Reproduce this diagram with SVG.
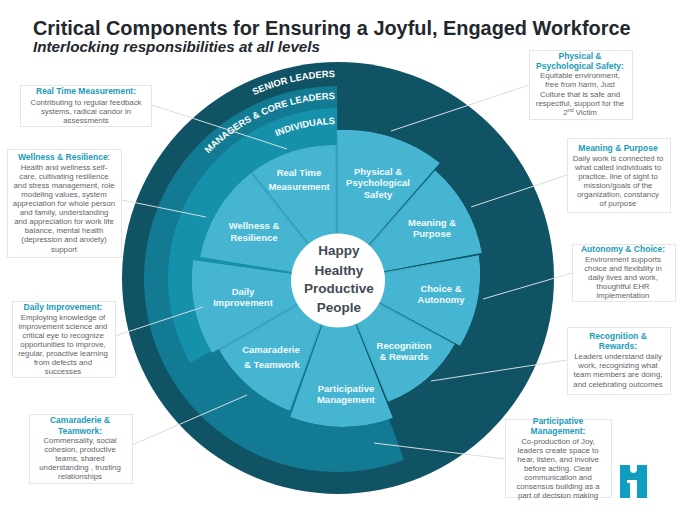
<svg xmlns="http://www.w3.org/2000/svg" width="680" height="512" viewBox="0 0 680 512">
<style>
text{font-family:"Liberation Sans",Arial,sans-serif}
.box{fill:#fff;stroke:#e4e7e9;stroke-width:1}
.h{font-size:8.5px;font-weight:bold;fill:#1a9cb8;text-anchor:middle}
.b{font-size:7.8px;fill:#5f6469;text-anchor:middle}
.p{fill:#45b5d1;filter:url(#sh)}
.l{font-size:9.5px;font-weight:bold;fill:#f2fafc;text-anchor:middle}
.r{font-size:9.4px;font-weight:bold;fill:#fff;text-anchor:end}
.c{font-size:13.5px;font-weight:bold;fill:#3f4a54;text-anchor:middle}
.ln{stroke:#d5dee1;stroke-width:1;fill:none}
</style>
<defs>
<filter id="sh" x="-20%" y="-20%" width="140%" height="140%"><feDropShadow dx="0" dy="0" stdDeviation="1.8" flood-color="#0d5164" flood-opacity=".7"/></filter>
<path id="a1" d="M136 279A202 202 0 0 1 335 77"/>
<path id="a2" d="M158 279A180 180 0 0 1 335 99"/>
<path id="a3" d="M183 279A155 155 0 0 1 335 124"/>
<clipPath id="petals">
<path d="M338 280L252 172A139 139 0 0 0 200 257Z"/>
<path d="M338 280L252 172A138 138 0 0 1 337 145Z"/>
<path d="M338 280L218 348A138 138 0 0 0 290 411Z"/>
<path d="M338 280L388 402A132 132 0 0 0 455 344Z"/>
<path d="M338 280L479 255A143 143 0 0 1 460 346Z"/>
<path d="M338 280L435 170A147 147 0 0 1 482 253Z"/>
<path d="M338 280L337 130A152 152 0 0 1 440 163Z"/>
<path d="M338 280L193 260A146 146 0 0 0 212 353Z"/>
<path d="M338 280L290 417A146 146 0 0 0 393 418Z"/>
</clipPath>
</defs>
<rect width="680" height="512" fill="#fff"/>
<text x="33" y="35" font-size="19.9" font-weight="bold" fill="#22282d">Critical Components for Ensuring a Joyful, Engaged Workforce</text>
<text x="33" y="52" font-size="15.200" font-weight="bold" font-style="italic" fill="#22282d">Interlocking responsibilities at all levels</text>
<g id="rings">
<circle cx="338" cy="278" r="216" fill="#0f5364"/>
<path d="M337 86A193 193 0 1 0 404 460L338 279Z" fill="#137a93"/>
<path d="M337 108A171 171 0 0 0 190 363L338 279Z" fill="#1691ac"/>
<text class="r"><textPath href="#a1" startOffset="100%">SENIOR LEADERS</textPath></text>
<text class="r"><textPath href="#a2" startOffset="100%">MANAGERS &amp; CORE LEADERS</textPath></text>
<text class="r"><textPath href="#a3" startOffset="100%">INDIVIDUALS</textPath></text>
</g>
<g id="wedges" clip-path="url(#petals)">
<path id="wellness" class="p" d="M338 280L252 172A139 139 0 0 0 200 257Z"/>
<path id="real-time" class="p" d="M338 280L252 172A138 138 0 0 1 337 145Z"/>
<path id="camaraderie" class="p" d="M338 280L218 348A138 138 0 0 0 290 411Z"/>
<path id="recognition" class="p" d="M338 280L388 402A132 132 0 0 0 455 344Z"/>
<path id="choice" class="p" d="M338 280L479 255A143 143 0 0 1 460 346Z"/>
<path id="meaning" class="p" d="M338 280L435 170A147 147 0 0 1 482 253Z"/>
<path id="physical" class="p" d="M338 280L337 130A152 152 0 0 1 440 163Z"/>
<path id="daily" class="p" d="M338 280L193 260A146 146 0 0 0 212 353Z"/>
<path id="participative" class="p" d="M338 280L290 417A146 146 0 0 0 393 418Z"/>
</g>
<g id="center"><circle cx="338" cy="280.500" r="47" fill="#fff"/>
<text class="c" x="339" y="255">Happy</text><text class="c" x="339" y="275">Healthy</text><text class="c" x="339" y="293">Productive</text><text class="c" x="339" y="312">People</text></g>
<g id="labels">
<text class="l" x="299" y="176">Real Time</text><text class="l" x="299" y="190">Measurement</text>
<text class="l" x="254" y="229">Wellness &amp;</text><text class="l" x="254" y="241">Resilience</text>
<text class="l" x="243" y="295">Daily</text><text class="l" x="243" y="306">Improvement</text>
<text class="l" x="271" y="353">Camaraderie</text><text class="l" x="272" y="368">&amp; Teamwork</text>
<text class="l" x="346" y="392">Participative</text><text class="l" x="346" y="403">Management</text>
<text class="l" x="404" y="349">Recognition</text><text class="l" x="404" y="360">&amp; Rewards</text>
<text class="l" x="441" y="292">Choice &amp;</text><text class="l" x="441" y="303">Autonomy</text>
<text class="l" x="432" y="226">Meaning &amp;</text><text class="l" x="432" y="237">Purpose</text>
<text class="l" x="378" y="175">Physical &amp;</text><text class="l" x="378" y="186">Psychological</text><text class="l" x="378" y="198">Safety</text>
</g>
<g id="connectors" class="ln">
<path d="M152 105L287 149"/><path d="M122 200L206 217"/><path d="M115 336L203 307"/><path d="M132 445L247 395"/>
<path d="M529 85L391 131"/><path d="M567 175L471 207"/><path d="M572 273L483 299"/><path d="M567 360L431 381"/><path d="M505 459L374 443"/>
</g>
<g id="n-real"><rect class="box" x="20.500" y="85.500" width="131" height="41"/><text class="h" x="86" y="94">Real Time Measurement:</text><text class="b" x="86" y="105">Contributing to regular feedback</text><text class="b" x="86" y="114">systems, radical candor in</text><text class="b" x="86" y="123">assessments</text></g>
<g id="n-wellness"><rect class="box" x="7.500" y="149.500" width="114" height="108"/><text class="h" x="64" y="160">Wellness &amp; Resilience<tspan fill="#5f6469" font-weight="normal">:</tspan></text><text class="b" x="64" y="170">Health and wellness self-</text><text class="b" x="64" y="179">care, cultivating resilience</text><text class="b" x="64" y="188">and stress management, role</text><text class="b" x="64" y="197">modeling values, system</text><text class="b" x="64" y="206">appreciation for whole person</text><text class="b" x="64" y="215">and family, understanding</text><text class="b" x="64" y="224">and appreciation for work life</text><text class="b" x="64" y="233">balance, mental health</text><text class="b" x="64" y="242">(depression and anxiety)</text><text class="b" x="64" y="252">support</text></g>
<g id="n-daily"><rect class="box" x="12.500" y="301.500" width="103" height="76"/><text class="h" x="63" y="310">Daily Improvement:</text><text class="b" x="63" y="320">Employing knowledge of</text><text class="b" x="63" y="329">improvement science and</text><text class="b" x="63" y="338">critical eye to recognize</text><text class="b" x="63" y="347">opportunities to improve,</text><text class="b" x="63" y="356">regular, proactive learning</text><text class="b" x="63" y="365">from defects and</text><text class="b" x="63" y="374">successes</text></g>
<g id="n-camaraderie"><rect class="box" x="29.500" y="414.500" width="103" height="69"/><text class="h" x="80" y="423">Camaraderie &amp;</text><text class="h" x="80" y="434">Teamwork:</text><text class="b" x="80" y="443">Commensality, social</text><text class="b" x="80" y="452">cohesion, productive</text><text class="b" x="80" y="461">teams, shared</text><text class="b" x="80" y="470">understanding , trusting</text><text class="b" x="80" y="479">relationships</text></g>
<g id="n-physical"><rect class="box" x="529.500" y="50.500" width="103" height="69"/><text class="h" x="580" y="59">Physical &amp;</text><text class="h" x="580" y="69">Psychological Safety:</text><text class="b" x="580" y="78">Equitable environment,</text><text class="b" x="580" y="87">free from harm, Just</text><text class="b" x="580" y="97">Culture that is safe and</text><text class="b" x="580" y="106">respectful, support for the</text><text class="b" x="580" y="115">2<tspan font-size="5.500" dy="-3">nd</tspan><tspan dy="3"> Victim</tspan></text></g>
<g id="n-meaning"><rect class="box" x="567.500" y="138.500" width="103" height="74"/><text class="h" x="618" y="151">Meaning &amp; Purpose</text><text class="b" x="618" y="161">Daily work is connected to</text><text class="b" x="618" y="170">what called individuals to</text><text class="b" x="618" y="179">practice, line of sight to</text><text class="b" x="618" y="188">mission/goals of the</text><text class="b" x="618" y="197">organization, constancy</text><text class="b" x="618" y="206">of purpose</text></g>
<g id="n-autonomy"><rect class="box" x="572.500" y="244.500" width="103" height="57"/><text class="h" x="623" y="252">Autonomy &amp; Choice:</text><text class="b" x="623" y="262">Environment supports</text><text class="b" x="623" y="271">choice and flexibility in</text><text class="b" x="623" y="280">daily lives and work,</text><text class="b" x="623" y="289">thoughtful EHR</text><text class="b" x="623" y="298">implementation</text></g>
<g id="n-recognition"><rect class="box" x="567.500" y="327.500" width="103" height="67"/><text class="h" x="618" y="339">Recognition &amp;</text><text class="h" x="618" y="349">Rewards:</text><text class="b" x="618" y="359">Leaders understand daily</text><text class="b" x="618" y="368">work, recognizing what</text><text class="b" x="618" y="377">team members are doing,</text><text class="b" x="618" y="387">and celebrating outcomes</text></g>
<g id="n-participative"><rect class="box" x="505.500" y="419.500" width="106" height="78"/><text class="h" x="558" y="424">Participative</text><text class="h" x="558" y="434">Management:</text><text class="b" x="558" y="444">Co-production of Joy,</text><text class="b" x="558" y="453">leaders create space to</text><text class="b" x="558" y="462">hear, listen, and involve</text><text class="b" x="558" y="471">before acting. Clear</text><text class="b" x="558" y="480">communication and</text><text class="b" x="558" y="489">consensus building as a</text><text class="b" x="558" y="498">part of decision making</text></g>
<g id="logo"><path d="M620 465H630V469Q630 473 633.500 473Q637 473 637 469V465H647V498H637V480H627V483H630V498H620Z" fill="#0f9ec0"/></g>
</svg>
